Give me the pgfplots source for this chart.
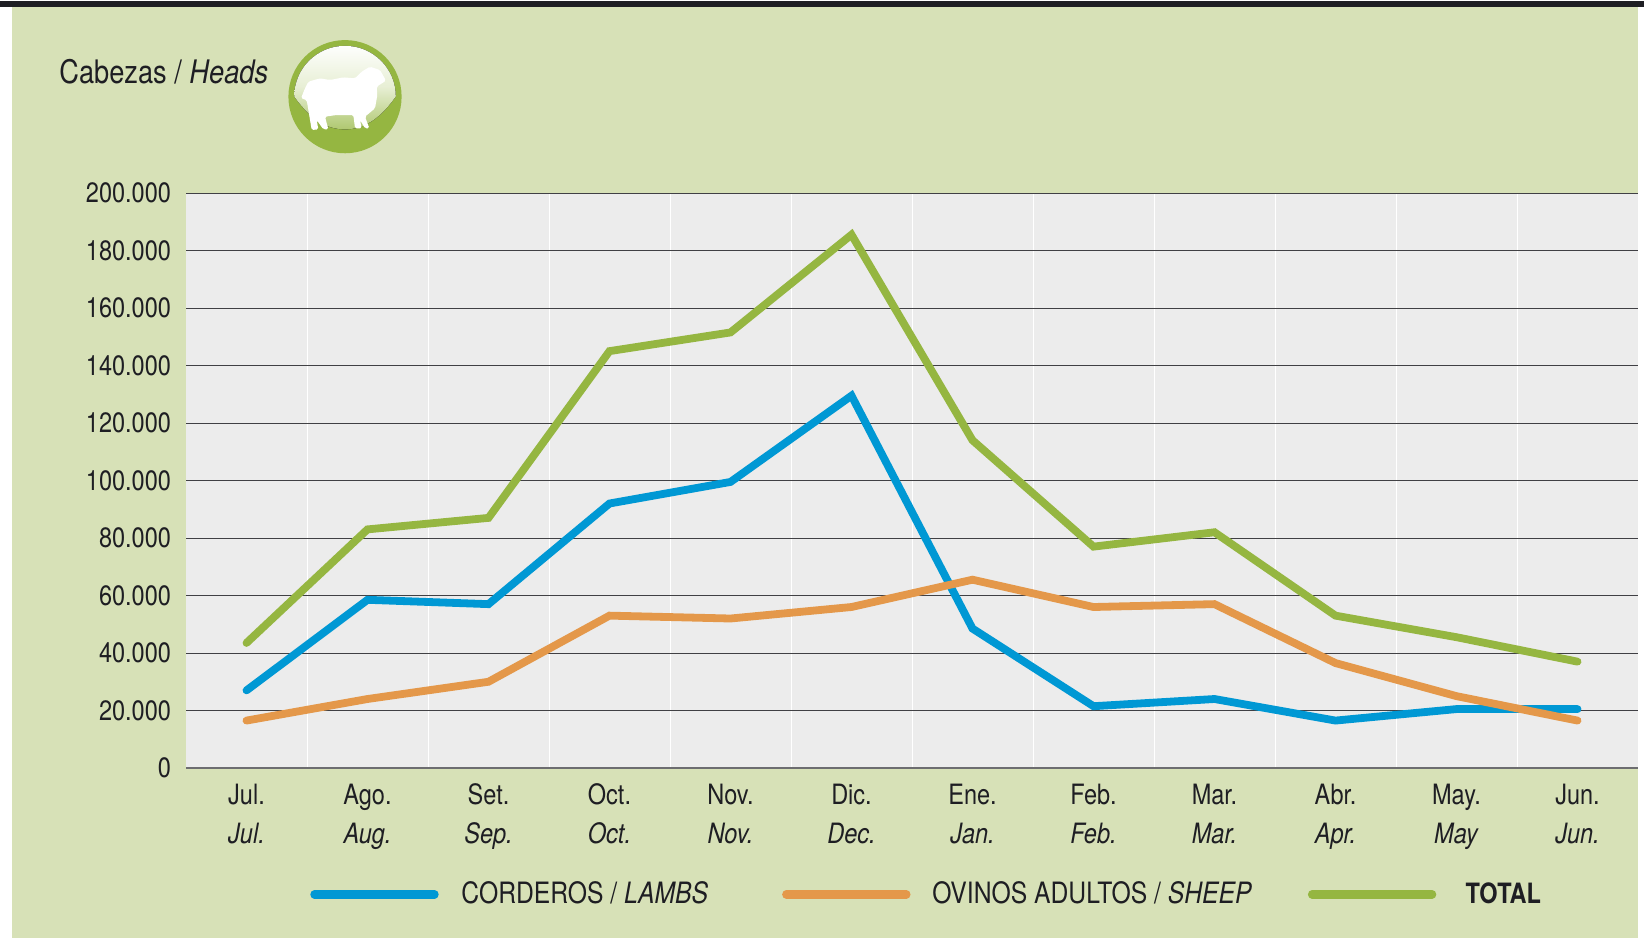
\documentclass[border=0pt]{standalone}
\usepackage{fontspec}
\setmainfont[FakeStretch=0.84]{TeX Gyre Heros}
\usepackage{pgfplots}
\pgfplotsset{compat=1.18}
\usetikzlibrary{shadings}
\definecolor{panel}{RGB}{215,225,183}
\definecolor{plotbg}{RGB}{236,236,236}
\definecolor{lambs}{RGB}{0,152,212}
\definecolor{sheep}{RGB}{228,152,74}
\definecolor{total}{RGB}{149,182,65}
\definecolor{ink}{RGB}{30,30,35}
\newcommand{\lab}{\fontsize{14}{19.5}\selectfont}

\begin{document}
\begin{tikzpicture}[x=0.5pt,y=-0.5pt]
\path[use as bounding box] (0,0) rectangle (1644,938);
\fill[panel] (12,7) rectangle (1638,938);
\fill[ink] (0,1) rectangle (1644,7);
\node[anchor=base west,inner sep=0pt,text=ink,font=\fontsize{16.2}{20}\selectfont]
  at (59,83) {Cabezas / \textit{Heads}};
% sheep badge, units are the 3x zoom pixels
\begin{scope}[x=0.16667pt,y=-0.16667pt]
  \fill[total] (1035,290) circle (28.3pt);
  \begin{scope}
    \clip (1035,290) circle (25.4pt);
    \fill[top color=white,bottom color=total!75!white,middle color=total!22!white]
      (870,130) -- (1200,130) -- (1200,270)
      .. controls (1140,365) and (1085,388) .. (1035,388)
      .. controls (985,388) and (930,365) .. (870,270) -- cycle;
  \end{scope}
  \fill[white,rounded corners=0.8pt] (1158,242) -- (1140,210) -- (1110,200) -- (1085,215) -- (1065,235)
    -- (1030,232) -- (990,240) -- (960,235) -- (925,245) -- (915,265) -- (903,295)
    -- (920,300) -- (925,330) -- (935,390) -- (955,388) -- (950,360) -- (970,388)
    -- (985,388) -- (975,350) -- (1010,345) -- (1060,345) -- (1065,385) -- (1085,385)
    -- (1080,360) -- (1095,385) -- (1108,385) -- (1095,350) -- (1125,325)
    -- (1132,285) -- (1130,260) -- cycle;
\end{scope}
\begin{axis}[
  at={(93pt,-384pt)}, anchor=south west,
  scale only axis, width=726pt, height=287.5pt,
  xmin=-0.5, xmax=11.5, ymin=0, ymax=200000,
  clip=false,
  axis background/.style={fill=plotbg},
  axis line style={draw=none},
  major tick length=0pt, minor tick length=0pt,
  xtick={0,...,11},
  xticklabels={Jul.\\\textit{Jul.},Ago.\\\textit{Aug.},Set.\\\textit{Sep.},Oct.\\\textit{Oct.},
    Nov.\\\textit{Nov.},Dic.\\\textit{Dec.},Ene.\\\textit{Jan.},Feb.\\\textit{Feb.},
    Mar.\\\textit{Mar.},Abr.\\\textit{Apr.},May.\\\textit{May},Jun.\\\textit{Jun.}},
  xticklabel style={align=center,font=\lab,text=ink,yshift=-4.3pt},
  minor xtick={0.5,1.5,...,10.5},
  xminorgrids=true,
  minor x grid style={white,line width=0.5pt},
  ytick={0,20000,...,200000},
  ymajorgrids=true,
  major y grid style={ink!85,line width=0.5pt},
  yticklabel style={font=\lab,text=ink,xshift=-4pt,
    /pgf/number format/assume math mode=true,
    /pgf/number format/.cd,1000 sep={.},fixed},
  scaled y ticks=false,
  every axis plot/.append style={line width=3.9pt,line cap=round,line join=miter},
  legend columns=3,
  legend style={at={(axis description cs:0.0856,-0.2198)},anchor=west,draw=none,fill=none,
    font=\fontsize{14.7}{18}\selectfont,text=ink,
    inner sep=0pt,outer sep=0pt,
    /tikz/column 1/.style={column sep=9.4pt},
    /tikz/column 2/.style={column sep=35pt},
    /tikz/column 3/.style={column sep=8.9pt},
    /tikz/column 4/.style={column sep=26pt},
    /tikz/column 5/.style={column sep=12.6pt}},
  legend image code/.code={\draw[#1,line width=4.2pt] (0pt,0pt) -- (60pt,0pt);},
]
\draw[ink!65,line width=1pt] (axis cs:-0.5,0) -- (axis cs:11.5,0);
\addplot[lambs] coordinates {(0,27000)(1,58500)(2,57000)(3,92000)(4,99500)(5,129500)
  (6,48500)(7,21500)(8,24000)(9,16500)(10,20500)(11,20500)};
\addlegendentry{CORDEROS / \textit{LAMBS}}
\addplot[sheep] coordinates {(0,16500)(1,24000)(2,30000)(3,53000)(4,52000)(5,56000)
  (6,65500)(7,56000)(8,57000)(9,36500)(10,25000)(11,16500)};
\addlegendentry{OVINOS ADULTOS / \textit{SHEEP}}
\addplot[total] coordinates {(0,43500)(1,83000)(2,87000)(3,145000)(4,151500)(5,185500)
  (6,114000)(7,77000)(8,82000)(9,53000)(10,45500)(11,37000)};
\addlegendentry{\fontsize{14}{18}\selectfont\textbf{TOTAL}}
\end{axis}
\end{tikzpicture}
\end{document}
